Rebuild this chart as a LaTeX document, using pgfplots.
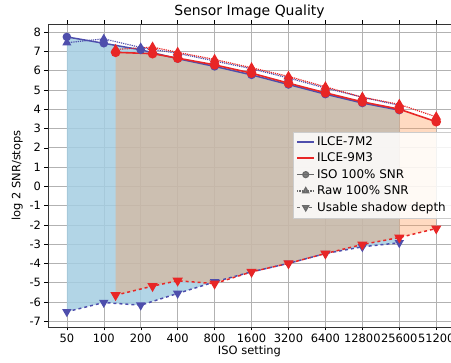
\documentclass[border=0pt]{standalone}
\usepackage{pgfplots}
\pgfplotsset{compat=1.18}
\usepackage{pgfplotstable}
\usepgfplotslibrary{fillbetween}
\usepackage{fontspec}
\setmainfont{DejaVu Sans}
\definecolor{bl}{RGB}{78,78,172}
\definecolor{rd}{RGB}{232,38,38}
\definecolor{bfill}{RGB}{164,206,226}
\definecolor{rfill}{RGB}{255,150,78}
\definecolor{lg}{RGB}{105,105,105}
\pgfplotstableread{
x iso raw shadow
0 7.75 7.45 -6.51
1 7.42 7.65 -6.03
2 7.08 7.20 -6.17
3 6.62 6.90 -5.56
4 6.22 6.50 -4.96
5 5.78 6.10 -4.44
6 5.28 5.62 -4.00
7 4.78 5.10 -3.49
8 4.32 4.62 -3.14
9 3.95 4.20 -2.93
}\blue
\pgfplotstableread{
x iso raw shadow
1.32 6.95 7.10 -5.65
2.32 6.88 7.22 -5.18
3 6.65 6.95 -4.90
4 6.30 6.58 -5.05
5 5.87 6.15 -4.44
6 5.35 5.70 -4.00
7 4.85 5.16 -3.49
8 4.38 4.62 -3.02
9 4.00 4.25 -2.66
10 3.35 3.60 -2.19
}\red
\begin{document}
\begin{tikzpicture}
\begin{axis}[
  scale only axis, width=403bp, height=303bp,
  xmin=-0.51, xmax=10.4, ymin=-7.3, ymax=8.42,
  xtick={0,...,10},
  xticklabels={50,100,200,400,800,1600,3200,6400,12800,25600,51200},
  ytick={-7,...,8},
  tick align=outside, tick style={black, thin}, major tick length=3.5bp,
  grid=major, grid style={gray!60, line width=0.5pt},
  axis line style={black!80, line width=0.8pt},
  ticklabel style={font=\fontsize{11.5}{13}\selectfont},
  xticklabel style={inner xsep=0pt},
  /pgf/number format/assume math mode=true,
  title={Sensor Image Quality},
  title style={font=\fontsize{14}{16}\selectfont, yshift=-4bp},
  xlabel={ISO setting}, ylabel={log 2 SNR/stops},
  label style={font=\fontsize{11.5}{13}\selectfont},
  xlabel style={yshift=4bp}, ylabel style={yshift=0bp},
  legend style={at={(rel axis cs:1,0.645)}, anchor=north east,
    font=\fontsize{12}{14}\selectfont, draw=gray!40, fill=white, fill opacity=0.85, text opacity=1,
    row sep=2bp, inner sep=3bp},
  legend cell align=left,
]
% fills
\addplot[name path=bu, draw=none, forget plot] table[x=x,y=iso]{\blue};
\addplot[name path=bl, draw=none, forget plot] table[x=x,y=shadow]{\blue};
\addplot[fill=bfill, fill opacity=0.85, draw=none, forget plot] fill between[of=bu and bl];
\addplot[name path=ru, draw=none, forget plot] table[x=x,y=iso]{\red};
\addplot[name path=rl, draw=none, forget plot] table[x=x,y=shadow]{\red};
\addplot[fill=rfill, fill opacity=0.35, draw=none, forget plot] fill between[of=ru and rl];
% blue lines
\addplot[bl, line width=1.5pt, mark=*, mark size=3.5pt, forget plot] table[x=x,y=iso]{\blue};
\addplot[bl, line width=1.2pt, densely dotted, mark=triangle*, mark size=4pt, mark options={solid}, forget plot] table[x=x,y=raw]{\blue};
\addplot[bl, line width=1.5pt, dashed, mark=triangle*, mark size=4pt, mark options={solid, rotate=180}, forget plot] table[x=x,y=shadow]{\blue};
% red lines
\addplot[rd, line width=1.6pt, mark=*, mark size=4pt, forget plot] table[x=x,y=iso]{\red};
\addplot[rd, line width=1.2pt, densely dotted, mark=triangle*, mark size=4.5pt, mark options={solid}, forget plot] table[x=x,y=raw]{\red};
\addplot[rd, line width=1.5pt, dashed, mark=triangle*, mark size=4.5pt, mark options={solid, rotate=180}, forget plot] table[x=x,y=shadow]{\red};
% legend
\addlegendimage{bl, line width=1.5pt}
\addlegendentry{ILCE-7M2}
\addlegendimage{rd, line width=1.6pt}
\addlegendentry{ILCE-9M3}
\addlegendimage{lg, line width=1.2pt, mark=*, mark size=3pt}
\addlegendentry{ISO 100\% SNR}
\addlegendimage{lg, line width=1.2pt, densely dotted, mark=triangle*, mark size=3.5pt, mark options={solid}}
\addlegendentry{Raw 100\% SNR}
\addlegendimage{lg, line width=1.2pt, dashed, mark=triangle*, mark size=3.5pt, mark options={solid, rotate=180}}
\addlegendentry{Usable shadow depth}
\end{axis}
\pgfresetboundingbox
\path ([shift={(-48bp,-36bp)}]current axis.south west) rectangle ([shift={(0bp,24bp)}]current axis.north east);
\end{tikzpicture}
\end{document}
